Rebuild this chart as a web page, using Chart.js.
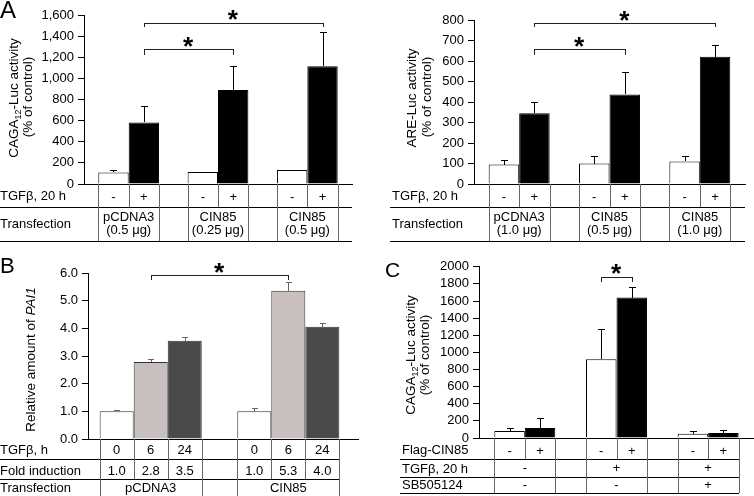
<!DOCTYPE html>
<html><head><meta charset="utf-8">
<script src="https://cdn.jsdelivr.net/npm/chart.js@4.4.1/dist/chart.umd.min.js"></script>
<style>
html,body{margin:0;padding:0;background:#fff;}
body{width:754px;height:496px;position:relative;overflow:hidden;}
.p{position:absolute;}
canvas{display:block;}
</style></head><body>
<div class="p" style="left:0;top:0;width:377px;height:250px"><canvas id="cA1" width="377" height="250"></canvas></div>
<div class="p" style="left:377px;top:0;width:377px;height:250px"><canvas id="cA2" width="377" height="250"></canvas></div>
<div class="p" style="left:0;top:255px;width:377px;height:241px"><canvas id="cB" width="377" height="241"></canvas></div>
<div class="p" style="left:377px;top:255px;width:377px;height:241px"><canvas id="cC" width="377" height="241"></canvas></div>
<script>
// ---------- DATA ----------
// Panel A (left): CAGA12-Luc activity (% of control)
const aTransfection = [['pCDNA3', '(0.5 μg)'], ['CIN85', '(0.25 μg)'], ['CIN85', '(0.5 μg)']];
const aCtrl = [110, 113, 132];
const aCtrlErr = [25, 0, 0];
const aTgf = [583, 891, 1115];
const aTgfErr = [157, 227, 328];
const aMax = 1600, aStep = 200;

// Panel A (right): ARE-Luc activity (% of control)
const areTransfection = [['pCDNA3', '(1.0 μg)'], ['CIN85', '(0.5 μg)'], ['CIN85', '(1.0 μg)']];
const areCtrl = [95, 100, 110];
const areCtrlErr = [20, 37, 28];
const areTgf = [345, 437, 621];
const areTgfErr = [57, 111, 56];
const areMax = 800, areStep = 100;

// Panel B: relative amount of PAI1
const bGroups = ['pCDNA3', 'CIN85'];
const bTimes = ['0', '6', '24'];
const bT0 = [1.0, 1.0];
const bT0Err = [0.04, 0.12];
const bT6 = [2.78, 5.36];
const bT6Err = [0.10, 0.33];
const bT24 = [3.55, 4.06];
const bT24Err = [0.13, 0.15];
const bFold = [['1.0', '2.8', '3.5'], ['1.0', '5.3', '4.0']];
const bMax = 6, bStep = 1;

// Panel C: CAGA12-Luc activity (% of control)
const cCtrl = [81, 919, 50];
const cCtrlErr = [39, 359, 31];
const cFlag = [116, 1641, 58];
const cFlagErr = [115, 127, 35];
const cFlagRow = ['-', '+'];
const cTgfRow = ['-', '+', '+'];
const cSbRow = ['-', '-', '+'];
const cMax = 2000, cStep = 200;

// ---------- HELPERS ----------
const FF = '"Liberation Sans", Arial, Helvetica, sans-serif';
Chart.defaults.font.family = FF;
Chart.defaults.font.size = 13;
Chart.defaults.color = '#000';

function px(v) { return Math.round(v) + 0.5; }
function hline(ctx, x1, x2, y, c) { ctx.strokeStyle = c; ctx.lineWidth = 1; ctx.beginPath(); ctx.moveTo(Math.round(x1), px(y)); ctx.lineTo(Math.round(x2), px(y)); ctx.stroke(); }
function vline(ctx, x, y1, y2, c) { ctx.strokeStyle = c; ctx.lineWidth = 1; ctx.beginPath(); ctx.moveTo(px(x), Math.round(y1)); ctx.lineTo(px(x), Math.round(y2)); ctx.stroke(); }
function barBox(chart, d, j) {
  const el = chart.getDatasetMeta(d).data[j];
  const p = el.getProps(['x', 'y', 'width'], true);
  return { l: p.x - p.width / 2, r: p.x + p.width / 2, c: p.x, top: p.y };
}
function valOf(ds, j) { const v = ds.data[j]; return (v && typeof v === 'object') ? v.y : v; }
function drawErrors(chart, color, cap) {
  const ctx = chart.ctx, ys = chart.scales.y;
  ctx.save();
  chart.data.datasets.forEach((ds, d) => {
    chart.getDatasetMeta(d).data.forEach((el, j) => {
      const e = ds.errors[j]; if (!e) return;
      const v = valOf(ds, j);
      const y0 = ys.getPixelForValue(v), y1 = ys.getPixelForValue(v + e);
      vline(ctx, el.x, y1, y0, color);
      hline(ctx, el.x - cap, el.x + cap + 1, y1, color);
    });
  });
  ctx.restore();
}
function star(ctx, cx, cy, h) {
  ctx.save();
  ctx.font = 'bold 100px ' + FF;
  const m = ctx.measureText('*');
  const size = 100 * h / (m.actualBoundingBoxAscent + m.actualBoundingBoxDescent);
  ctx.font = 'bold ' + size.toFixed(2) + 'px ' + FF;
  const m2 = ctx.measureText('*');
  ctx.textAlign = 'left'; ctx.textBaseline = 'alphabetic'; ctx.fillStyle = '#000';
  const x = cx - (m2.actualBoundingBoxRight - m2.actualBoundingBoxLeft) / 2;
  const y = cy + (m2.actualBoundingBoxAscent - m2.actualBoundingBoxDescent) / 2;
  ctx.fillText('*', x, y);
  ctx.restore();
}
function bracket(chart, a, b, val, drop) {
  const ctx = chart.ctx, ys = chart.scales.y;
  const y = ys.getPixelForValue(val);
  ctx.save();
  hline(ctx, a, b + 1, y, '#222');
  vline(ctx, a, y, y + drop, '#222');
  vline(ctx, b, y, y + drop, '#222');
  ctx.restore();
  star(ctx, (a + b) / 2, y - 7.7, 10);
}
function vtext(ctx, cx, cy, runs) {
  ctx.save();
  ctx.translate(cx, cy); ctx.rotate(-Math.PI / 2);
  ctx.textBaseline = 'middle'; ctx.textAlign = 'left'; ctx.fillStyle = '#000';
  let total = 0;
  runs.forEach(r => { ctx.font = r.font; r.w = ctx.measureText(r.t).width; total += r.w; });
  let x = -total / 2;
  runs.forEach(r => { ctx.font = r.font; ctx.fillText(r.t, x, r.dy || 0); x += r.w; });
  ctx.restore();
}
function letter(ctx, t, x, y, size) {
  ctx.save(); ctx.font = size + 'px ' + FF; ctx.fillStyle = '#000';
  ctx.textAlign = 'left'; ctx.textBaseline = 'alphabetic'; ctx.fillText(t, x, y); ctx.restore();
}
const T13 = '13.5px ' + FF, SUB = '9px ' + FF;

function yScale(max, step, left, fmt) {
  return {
    min: 0, max: max,
    ticks: { stepSize: step, padding: 4, color: '#000', font: { size: 13 }, autoSkip: false, callback: fmt },
    grid: { display: true, drawOnChartArea: false, drawTicks: true, tickLength: 6, color: '#000', lineWidth: 1 },
    border: { display: true, color: '#000', width: 1 },
    afterFit: s => { s.width = left; }
  };
}
function xCat(h) {
  return {
    ticks: { display: false }, grid: { display: false },
    border: { display: true, color: '#000', width: 1 },
    afterFit: s => { s.height = h; }
  };
}
function baseOpts(pad, scales) {
  return {
    responsive: false, animation: false, events: [],
    layout: { padding: pad },
    plugins: { legend: { display: false }, tooltip: { enabled: false } },
    scales: scales
  };
}

// ---------- PANEL A (left) ----------
function drawTableA(chart, groups, x0, labelX) {
  const ctx = chart.ctx, ca = chart.chartArea;
  const top = ca.bottom, r1 = top + 23, r2 = top + 57;
  ctx.save();
  ctx.font = '13px ' + FF; ctx.fillStyle = '#000'; ctx.textBaseline = 'middle'; ctx.textAlign = 'left';
  ctx.fillText('TGFβ, 20 h', labelX, top + 12.5);
  ctx.fillText('Transfection', labelX, top + 40);
  hline(ctx, x0, ca.right, r1, '#000');
  hline(ctx, x0, ca.right, r2, '#000');
  ctx.textAlign = 'center';
  groups.forEach((g, j) => {
    const w = barBox(chart, 0, j), b = barBox(chart, 1, j);
    [w.l, w.r, b.r].forEach(x => vline(ctx, x, top, r1, '#666'));
    vline(ctx, w.l, r1, r2, '#666'); vline(ctx, b.r, r1, r2, '#666');
    ctx.fillText('-', w.c, top + 13);
    ctx.fillText('+', b.c, top + 13);
    ctx.fillText(g[0], w.r, top + 33);
    ctx.fillText(g[1], w.r, top + 46.5);
  });
  ctx.restore();
}

new Chart(document.getElementById('cA1'), {
  type: 'bar',
  data: {
    labels: aTransfection.map(g => g.join(' ')),
    datasets: [
      { data: aCtrl, errors: aCtrlErr, backgroundColor: '#fff', borderColor: '#000', borderWidth: 1, categoryPercentage: 0.68, barPercentage: 1 },
      { data: aTgf, errors: aTgfErr, backgroundColor: '#000', borderColor: '#000', borderWidth: 1, categoryPercentage: 0.68, barPercentage: 1 }
    ]
  },
  options: baseOpts({ left: 0, right: 25, top: 15, bottom: 0 }, {
    x: xCat(66),
    y: yScale(aMax, aStep, 84, v => v.toLocaleString('en-US'))
  }),
  plugins: [{
    id: 'decoA1',
    afterDatasetsDraw(chart) { drawErrors(chart, '#000', 3); },
    afterDraw(chart) {
      const ctx = chart.ctx;
      const b0 = barBox(chart, 1, 0).c, b1 = barBox(chart, 1, 1).c, b2 = barBox(chart, 1, 2).c;
      bracket(chart, b0, b1, 1275, 6);
      bracket(chart, b0, b2, 1527, 4);
      drawTableA(chart, aTransfection, 0, 0);
      vtext(ctx, 14, 98, [{ t: 'CAGA', font: T13 }, { t: '12', font: SUB, dy: 5 }, { t: '-Luc activity', font: T13 }]);
      vtext(ctx, 28, 97, [{ t: '(% of control)', font: T13 }]);
      letter(ctx, 'A', 0, 17.5, 24);
    }
  }]
});

// ---------- PANEL A (right) ----------
new Chart(document.getElementById('cA2'), {
  type: 'bar',
  data: {
    labels: areTransfection.map(g => g.join(' ')),
    datasets: [
      { data: areCtrl, errors: areCtrlErr, backgroundColor: '#fff', borderColor: '#000', borderWidth: 1, categoryPercentage: 0.675, barPercentage: 1 },
      { data: areTgf, errors: areTgfErr, backgroundColor: '#000', borderColor: '#000', borderWidth: 1, categoryPercentage: 0.675, barPercentage: 1 }
    ]
  },
  options: baseOpts({ left: 0, right: 9, top: 20, bottom: 0 }, {
    x: xCat(66),
    y: yScale(areMax, areStep, 97, v => String(v))
  }),
  plugins: [{
    id: 'decoA2',
    afterDatasetsDraw(chart) { drawErrors(chart, '#000', 3); },
    afterDraw(chart) {
      const ctx = chart.ctx;
      const b0 = barBox(chart, 1, 0).c, b1 = barBox(chart, 1, 1).c, b2 = barBox(chart, 1, 2).c;
      bracket(chart, b0, b1, 657, 6);
      bracket(chart, b0, b2, 784, 4);
      drawTableA(chart, areTransfection, 13, 15);
      vtext(ctx, 35, 98, [{ t: 'ARE-Luc activity', font: T13 }]);
      vtext(ctx, 50, 97, [{ t: '(% of control)', font: T13 }]);
    }
  }]
});

// ---------- PANEL B ----------
const bColors = ['#ffffff', '#c9bfbf', '#4a4a4a'];
const bSeries = [[bT0, bT0Err], [bT6, bT6Err], [bT24, bT24Err]];
new Chart(document.getElementById('cB'), {
  type: 'bar',
  data: {
    datasets: bSeries.map((s, d) => ({
      data: s[0].map((v, i) => ({ x: i, y: v })), errors: s[1],
      backgroundColor: bColors[d], borderColor: '#333', borderWidth: 1,
      categoryPercentage: 0.742, barPercentage: 1
    }))
  },
  options: baseOpts({ left: 0, right: 19, top: 18, bottom: 0 }, {
    x: {
      type: 'linear', min: -0.4557, max: 1.5065, offset: false, bounds: 'data',
      afterBuildTicks: s => { s.ticks = [{ value: 0 }, { value: 1 }]; },
      ticks: { display: false }, grid: { display: false, offset: false },
      border: { display: true, color: '#000', width: 1 },
      afterFit: s => { s.height = 57; }
    },
    y: yScale(bMax, bStep, 88, v => v.toFixed(1))
  }),
  plugins: [{
    id: 'decoB',
    afterDatasetsDraw(chart) { drawErrors(chart, '#666', 2.5); },
    afterDraw(chart) {
      const ctx = chart.ctx, ca = chart.chartArea;
      const g0 = barBox(chart, 1, 0).c, g1 = barBox(chart, 1, 1).c;
      bracket(chart, g0, g1, 5.91, 5);
      // table
      const top = ca.bottom, l1 = top + 20, l2 = top + 40, bottom = chart.height;
      const lastR = barBox(chart, 2, 1).r;
      ctx.save();
      ctx.font = '13px ' + FF; ctx.fillStyle = '#000'; ctx.textBaseline = 'middle'; ctx.textAlign = 'left';
      ctx.fillText('TGFβ, h', 0, top + 11);
      ctx.fillText('Fold induction', 0, top + 32);
      ctx.fillText('Transfection', 0, top + 49.5);
      hline(ctx, 0, lastR, l1, '#000');
      hline(ctx, 0, lastR, l2, '#000');
      ctx.textAlign = 'center';
      bGroups.forEach((name, j) => {
        for (let d = 0; d < 3; d++) {
          const bb = barBox(chart, d, j);
          vline(ctx, bb.l, top, l2, '#666');
          if (d === 2) vline(ctx, bb.r, top, l2, '#666');
          ctx.fillText(bTimes[d], bb.c, top + 11);
          ctx.fillText(bFold[j][d], bb.c, top + 32);
        }
        const gl = barBox(chart, 0, j).l, gr = barBox(chart, 2, j).r;
        vline(ctx, gl, l2, bottom, '#666'); vline(ctx, gr, l2, bottom, '#666');
        ctx.fillText(name, barBox(chart, 1, j).c, top + 49.5);
      });
      ctx.restore();
      vtext(ctx, 31, 104.5, [{ t: 'Relative amount of ', font: T13 }, { t: 'PAI1', font: 'italic 13.5px ' + FF }]);
      letter(ctx, 'B', 0, 17.5, 22);
    }
  }]
});

// ---------- PANEL C ----------
new Chart(document.getElementById('cC'), {
  type: 'bar',
  data: {
    labels: ['1', '2', '3'],
    datasets: [
      { data: cCtrl, errors: cCtrlErr, backgroundColor: '#fff', borderColor: '#000', borderWidth: 1, categoryPercentage: 0.665, barPercentage: 1 },
      { data: cFlag, errors: cFlagErr, backgroundColor: '#000', borderColor: '#000', borderWidth: 1, categoryPercentage: 0.665, barPercentage: 1 }
    ]
  },
  options: baseOpts({ left: 0, right: 0, top: 10, bottom: 0 }, {
    x: xCat(58),
    y: yScale(cMax, cStep, 102, v => String(v))
  }),
  plugins: [{
    id: 'decoC',
    afterDatasetsDraw(chart) { drawErrors(chart, '#000', 3); },
    afterDraw(chart) {
      const ctx = chart.ctx, ca = chart.chartArea;
      bracket(chart, barBox(chart, 0, 1).c, barBox(chart, 1, 1).c, 1883, 5);
      const top = ca.bottom, l1 = top + 21, l2 = top + 38.5, l3 = top + 54.5;
      const lastR = barBox(chart, 1, 2).r;
      ctx.save();
      ctx.font = '13px ' + FF; ctx.fillStyle = '#000'; ctx.textBaseline = 'middle'; ctx.textAlign = 'left';
      ctx.fillText('Flag-CIN85', 25, top + 12.5);
      ctx.fillText('TGFβ, 20 h', 25, top + 31);
      ctx.fillText('SB505124', 25, top + 47);
      hline(ctx, 23, lastR, l1, '#000');
      hline(ctx, 23, lastR, l2, '#000');
      hline(ctx, 23, lastR, l3, '#000');
      ctx.textAlign = 'center';
      cTgfRow.forEach((t, j) => {
        const w = barBox(chart, 0, j), b = barBox(chart, 1, j);
        [w.l, w.r, b.r].forEach(x => vline(ctx, x, top, l1, '#666'));
        vline(ctx, w.l, l1, l3, '#666'); vline(ctx, b.r, l1, l3, '#666');
        ctx.fillText(cFlagRow[0], w.c, top + 13);
        ctx.fillText(cFlagRow[1], b.c, top + 13);
        ctx.fillText(t, w.r, top + 30.5);
        ctx.fillText(cSbRow[j], w.r, top + 47);
      });
      ctx.restore();
      vtext(ctx, 34, 100, [{ t: 'CAGA', font: T13 }, { t: '12', font: SUB, dy: 5 }, { t: '-Luc activity', font: T13 }]);
      vtext(ctx, 48, 100, [{ t: '(% of control)', font: T13 }]);
      letter(ctx, 'C', 8, 21.5, 21);
    }
  }]
});
</script>
</body></html>
